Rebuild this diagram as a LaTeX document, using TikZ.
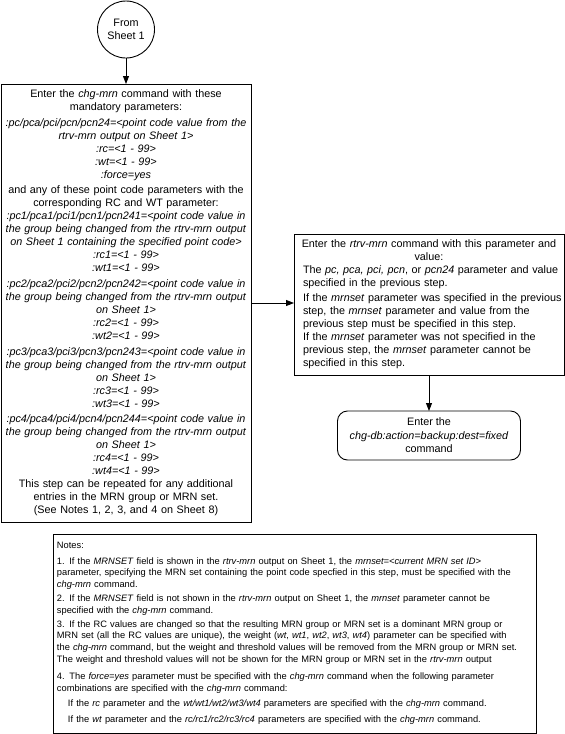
\documentclass[tikz,border=0pt]{standalone}
\usepackage{fontspec}
\setmainfont{Liberation Sans}
\usetikzlibrary{arrows.meta}
\begin{document}
\begin{tikzpicture}[x=1pt,y=-1pt,
  every node/.style={inner sep=0pt, outer sep=0pt},
  conn/.style={draw, line width=0.9pt, -{Triangle[length=8pt,width=6pt]}},
  boxline/.style={draw, line width=0.9pt},
  mainfont/.style={font=\fontsize{10.8}{13}\selectfont},
  notefont/.style={font=\fontsize{9.3}{11.8}\selectfont},
]
\useasboundingbox (0,0) rectangle (565,734);

\node[boxline, circle, minimum size=57pt, align=center, mainfont] (start) at (126,29.5) {From\\Sheet 1};

\node[boxline, rectangle, minimum width=250pt, minimum height=438pt, text width=246pt, align=center, mainfont] (chg) at (126,303) {%
Enter the \textit{chg-mrn} command with these\\
mandatory parameters:\\[2.6pt]
\textit{:pc/pca/pci/pcn/pcn24=<point code value from the}\\
\textit{rtrv-mrn output on Sheet 1>}\\
\textit{:rc=<1 - 99>}\\
\textit{:wt=<1 - 99>}\\
\textit{:force=yes}\\[2.6pt]
and any of these point code parameters with the\\
corresponding RC and WT parameter:\\
\textit{:pc1/pca1/pci1/pcn1/pcn241=<point code value in}\\
\textit{the group being changed from the rtrv-mrn output}\\
\textit{on Sheet 1 containing the specified point code>}\\
\textit{:rc1=<1 - 99>}\\
\textit{:wt1=<1 - 99>}\\[2.6pt]
\textit{:pc2/pca2/pci2/pcn2/pcn242=<point code value in}\\
\textit{the group being changed from the rtrv-mrn output}\\
\textit{on Sheet 1>}\\
\textit{:rc2=<1 - 99>}\\
\textit{:wt2=<1 - 99>}\\[2.6pt]
\textit{:pc3/pca3/pci3/pcn3/pcn243=<point code value in}\\
\textit{the group being changed from the rtrv-mrn output}\\
\textit{on Sheet 1>}\\
\textit{:rc3=<1 - 99>}\\
\textit{:wt3=<1 - 99>}\\[2.6pt]
\textit{:pc4/pca4/pci4/pcn4/pcn244=<point code value in}\\
\textit{the group being changed from the rtrv-mrn output}\\
\textit{on Sheet 1>}\\
\textit{:rc4=<1 - 99>}\\
\textit{:wt4=<1 - 99>}\\
This step can be repeated for any additional\\
entries in the MRN group or MRN set.\\
(See Notes 1, 2, 3, and 4 on Sheet 8)};

\node[boxline, rectangle, anchor=west, minimum width=270pt, minimum height=141pt, inner xsep=4pt, text width=262pt, mainfont] (rtrv) at (294,304.5) {%
{\centering Enter the \textit{rtrv-mrn} command with this parameter and\\
value:\par}
\raggedright\leftskip=5pt
\mbox{The \textit{pc, pca, pci, pcn}, or \textit{pcn24} parameter and value}\\
\mbox{specified in the previous step.}\par\vspace{2pt}
\mbox{If the \textit{mrnset} parameter was specified in the previous}\\
\mbox{step, the \textit{mrnset} parameter and value from the}\\
\mbox{previous step must be specified in this step.}\\
\mbox{If the \textit{mrnset} parameter was not specified in the}\\
\mbox{previous step, the \textit{mrnset} parameter cannot be}\\
\mbox{specified in this step.}\par};

\node[boxline, rectangle, rounded corners=10pt, minimum width=183pt, minimum height=49pt, align=center, font=\fontsize{10.8}{13.5}\selectfont] (done) at (429,435.5) {%
Enter the\\
\textit{chg-db:action=backup:dest=fixed}\\
command};

\node[boxline, rectangle, minimum width=483pt, minimum height=199pt, inner xsep=3pt, text width=477pt, notefont] (notes) at (294.5,633.5) {%
\raggedright\leftskip=1pt
Notes:\\[3.5pt]
1. If the \textit{MRNSET} field is shown in the \textit{rtrv-mrn} output on Sheet 1, the \textit{mrnset=<current MRN set ID>}\\
parameter, specifying the MRN set containing the point code specfied in this step, must be specified with the\\
\textit{chg-mrn} command.\\[2pt]
2. If the \textit{MRNSET} field is not shown in the \textit{rtrv-mrn} output on Sheet 1, the \textit{mrnset} parameter cannot be\\
specified with the \textit{chg-mrn} command.\\[2pt]
3. If the RC values are changed so that the resulting MRN group or MRN set is a dominant MRN group or\\
MRN set (all the RC values are unique), the weight (\textit{wt}, \textit{wt1}, \textit{wt2}, \textit{wt3}, \textit{wt4}) parameter can be specified with\\
the \textit{chg-mrn} command, but the weight and threshold values will be removed from the MRN group or MRN set.\\
The weight and threshold values will not be shown for the MRN group or MRN set in the \textit{rtrv-mrn} output\\[5pt]
4. The \textit{force=yes} parameter must be specified with the \textit{chg-mrn} command when the following parameter\\
combinations are specified with the \textit{chg-mrn} command:\\[4pt]
\hspace*{11pt}If the \textit{rc} parameter and the \textit{wt/wt1/wt2/wt3/wt4} parameters are specified with the \textit{chg-mrn} command.\\[4pt]
\hspace*{11pt}If the \textit{wt} parameter and the \textit{rc/rc1/rc2/rc3/rc4} parameters are specified with the \textit{chg-mrn} command.\par};

\draw[conn] (start) -- (chg);
\draw[conn] (chg.east) -- (chg.east -| rtrv.west);
\draw[conn] (rtrv) -- (done);
\end{tikzpicture}
\end{document}
